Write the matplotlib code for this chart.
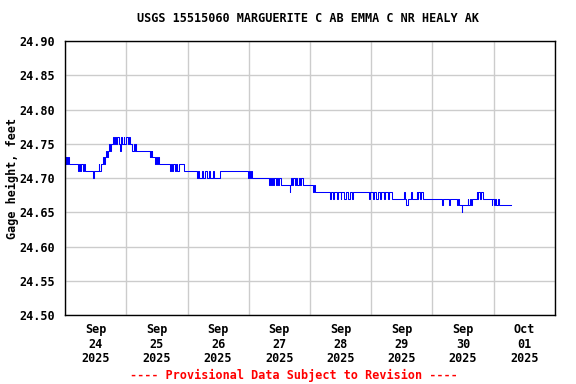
import matplotlib
matplotlib.use("Agg")
import matplotlib.pyplot as plt
import numpy as np

# hours since Sep 24 2025 00:00 and gage height (ft), step changes
hours = [
    0.0, 0.25, 0.5, 0.75, 1.0, 1.5, 5.0, 5.5, 6.0, 6.25, 7.0, 7.5, 8.0, 11.0, 11.5,
    13.25, 13.5, 14.0, 15.0, 15.25, 15.5, 16.0, 16.5, 16.75, 17.25, 17.5, 18.0,
    19.0, 19.25, 19.75, 20.0, 20.5, 21.0, 21.5, 21.75, 22.0, 22.5, 23.0, 23.25,
    24.0, 24.5, 25.0, 25.5, 26.25, 27.0, 27.25, 27.75, 28.0, 33.25, 33.5, 33.75,
    34.0, 34.25, 35.25, 35.5, 36.0, 36.25, 36.75, 41.0, 41.5, 42.0, 42.25, 43.0,
    43.5, 44.0, 44.5, 46.5, 51.75, 52.0, 52.5, 53.5, 54.0, 55.0, 55.5, 56.5, 57.0,
    58.0, 58.5, 60.75, 71.75, 72.0, 72.5, 73.0, 73.25, 80.0, 80.25, 80.75, 81.0,
    81.5, 82.0, 82.5, 83.0, 83.5, 84.0, 84.5, 88.0, 88.25, 88.75, 89.0, 89.5, 90.0,
    90.5, 91.0, 91.5, 92.0, 92.5, 93.25, 97.25, 97.5, 98.0, 104.0, 104.25, 105.0,
    105.5, 106.5, 107.0, 108.0, 108.25, 109.5, 110.0, 111.0, 111.5, 112.5, 113.0,
    119.0, 119.5, 120.5, 121.0, 122.0, 122.5, 123.5, 124.0, 125.0, 125.5, 126.5,
    127.0, 128.25, 132.75, 133.25, 133.75, 134.25, 135.75, 136.0, 137.75, 138.0,
    138.5, 139.0, 139.5, 140.25, 147.75, 148.0, 150.5, 150.75, 153.5, 154.0, 154.5,
    155.5, 155.75, 157.75, 158.0, 158.5, 159.0, 159.5, 161.25, 161.5, 162.0, 162.5,
    163.0, 163.75, 167.25, 167.5, 168.0, 168.5, 169.0, 169.5, 170.25, 174.75,
]
gage = [
    24.73, 24.72, 24.73, 24.72, 24.73, 24.72, 24.71, 24.72, 24.71, 24.72, 24.71, 24.72, 24.71, 24.70, 24.71,
    24.72, 24.71, 24.72, 24.73, 24.72, 24.73, 24.74, 24.73, 24.74, 24.75, 24.74, 24.75,
    24.76, 24.75, 24.76, 24.75, 24.76, 24.75, 24.74, 24.75, 24.76, 24.75, 24.76, 24.75,
    24.76, 24.75, 24.76, 24.75, 24.74, 24.75, 24.74, 24.75, 24.74, 24.73, 24.74, 24.73,
    24.74, 24.73, 24.72, 24.73, 24.72, 24.73, 24.72, 24.71, 24.72, 24.71, 24.72, 24.71,
    24.72, 24.71, 24.72, 24.71, 24.70, 24.71, 24.70, 24.71, 24.70, 24.71, 24.70, 24.71, 24.70,
    24.71, 24.70, 24.71, 24.70, 24.71, 24.70, 24.71, 24.70, 24.69, 24.70, 24.69, 24.70,
    24.69, 24.70, 24.69, 24.70, 24.69, 24.70, 24.69, 24.68, 24.69, 24.70, 24.69, 24.70, 24.69,
    24.70, 24.69, 24.70, 24.69, 24.70, 24.69, 24.68, 24.69, 24.68, 24.67, 24.68, 24.67,
    24.68, 24.67, 24.68, 24.67, 24.68, 24.67, 24.68, 24.67, 24.68, 24.67, 24.68,
    24.67, 24.68, 24.67, 24.68, 24.67, 24.68, 24.67, 24.68, 24.67, 24.68, 24.67,
    24.68, 24.67, 24.68, 24.67, 24.66, 24.67, 24.68, 24.67, 24.68, 24.67,
    24.68, 24.67, 24.68, 24.67, 24.66, 24.67, 24.66, 24.67, 24.66, 24.67, 24.66,
    24.65, 24.66, 24.67, 24.66, 24.67, 24.66, 24.67, 24.68, 24.67, 24.68, 24.67,
    24.68, 24.67, 24.66, 24.67, 24.66, 24.67, 24.66, 24.67, 24.66, 24.66,
]

day_labels = ["Sep\n24\n2025", "Sep\n25\n2025", "Sep\n26\n2025", "Sep\n27\n2025",
              "Sep\n28\n2025", "Sep\n29\n2025", "Sep\n30\n2025", "Oct\n01\n2025"]
y_ticks = [24.50, 24.55, 24.60, 24.65, 24.70, 24.75, 24.80, 24.85, 24.90]

font = {"family": "DejaVu Sans Mono", "weight": "bold", "size": 8.5}

fig = plt.figure(figsize=(5.76, 3.84), dpi=100)
ax = fig.add_axes([65 / 576, 1 - 315 / 384, 490 / 576, 274 / 384])

ax.plot(hours, gage, color="#0000ff", linewidth=0.75, drawstyle="steps-post")

ax.set_xlim(0, 192)
ax.set_ylim(24.50, 24.90)
ax.set_yticks(y_ticks)
ax.set_yticklabels(["%.2f" % v for v in y_ticks], fontdict=font)
ax.set_xticks(np.arange(0, 193, 24))
ax.set_xticklabels([])
ax.set_xticks(np.arange(12, 192, 24), minor=True)
ax.set_xticklabels(day_labels, minor=True, fontdict=font, linespacing=1.15)
ax.tick_params(which="both", length=0)
ax.tick_params(axis="y", pad=7)
ax.tick_params(axis="x", which="minor", pad=6)
ax.grid(True, which="major", color="#cccccc", linewidth=1.0)
ax.set_axisbelow(True)
for s in ax.spines.values():
    s.set_linewidth(1.0)
    s.set_color("black")

fig.text(12 / 576, 1 - 178 / 384, "Gage height, feet", rotation=90,
         ha="center", va="center", **font)
fig.text(0.535, 1 - 18 / 384, "USGS 15515060 MARGUERITE C AB EMMA C NR HEALY AK",
         ha="center", va="center", **font)
fig.text(0.511, 1 - 375 / 384, "---- Provisional Data Subject to Revision ----",
         ha="center", va="center", color="red", **font)

fig.savefig("out.png", dpi=100)
